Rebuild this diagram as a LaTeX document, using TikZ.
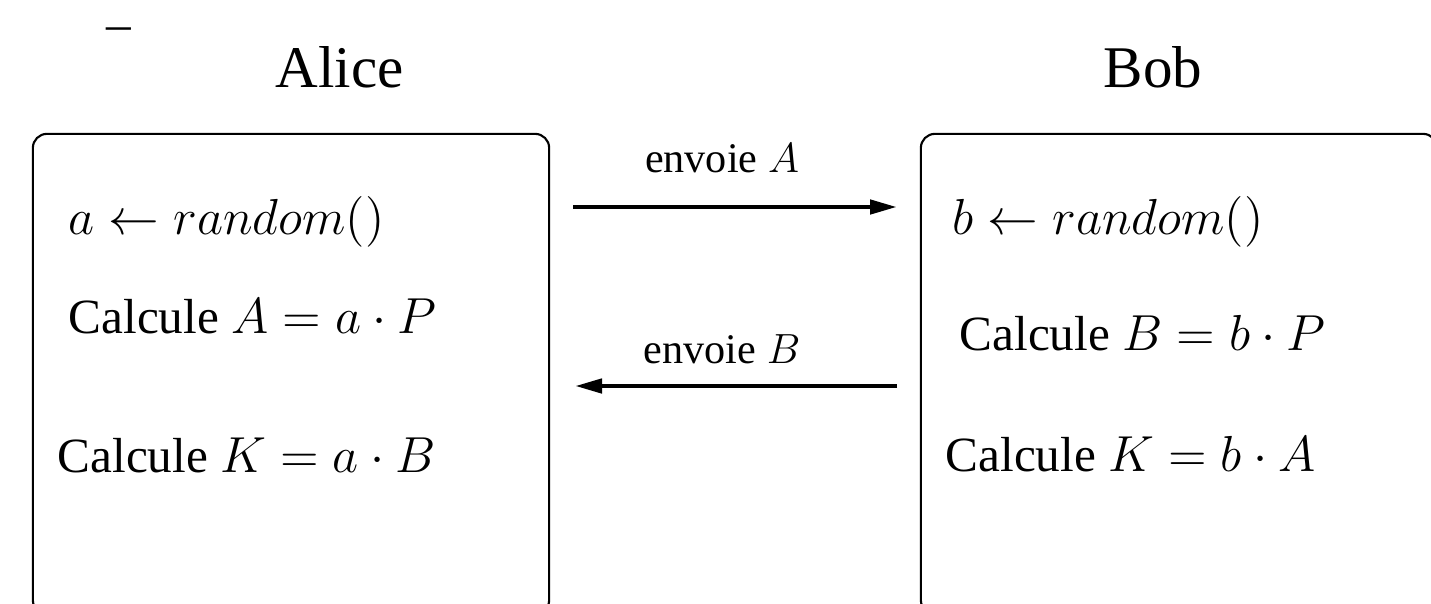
\documentclass[tikz,border=0pt]{standalone}
\usepackage{fontspec}
\setmainfont{Liberation Serif}
\usetikzlibrary{arrows.meta}

\tikzset{
	party/.style = {draw, rounded corners=4pt, line width=0.6pt, minimum width=5.16cm, minimum height=4.8cm},
	msg/.style = {line width=1.3pt, -{Triangle[length=2.7mm, width=1.4mm]}},
	calc/.style = {anchor=base west, inner sep=0pt, font=\fontsize{14}{17}\selectfont},
	who/.style = {anchor=base west, inner sep=0pt, font=\fontsize{16.8}{20}\selectfont},
	lbl/.style = {anchor=base, inner sep=0pt, font=\fontsize{12}{14}\selectfont}
}

\begin{document}
\begin{tikzpicture}[x=0.01cm, y=-0.01cm]
		\useasboundingbox (0,0) rectangle (1431,603);
		\clip (0,0) rectangle (1431,603);
		
		\node [calc] (dash) at (106,41) {--};
		\node [who] (alice) at (275,87) {Alice};
		\node [who] (bob) at (1103,87) {Bob};
		
		\node [party] (alicebox) at (291,374) {};
		\node [party] (bobbox) at (1179,374) {};
		
		\node [calc] (arand) at (68,234) {$a \leftarrow random()$};
		\node [calc] (acalc) at (68,333) {Calcule $A = a \cdot P$};
		\node [calc] (akey) at (57,472) {Calcule $K = a \cdot B$};
		
		\node [calc] (brand) at (952,234) {$b \leftarrow random()$};
		\node [calc] (bcalc) at (959,350) {Calcule $B = b \cdot P$};
		\node [calc] (bkey) at (945,471) {Calcule $K = b \cdot A$};
		
		\coordinate (aout) at (573,207);
		\coordinate (bin) at (897,207);
		\coordinate (bout) at (897,386);
		\coordinate (ain) at (575,386);
		
		\draw [msg] (aout) -- (bin);
		\draw [msg] (bout) -- (ain);
		\node [lbl] (sendA) at (722,172) {envoie $A$};
		\node [lbl] (sendB) at (722,363) {envoie $B$};
		
\end{tikzpicture}
\end{document}
